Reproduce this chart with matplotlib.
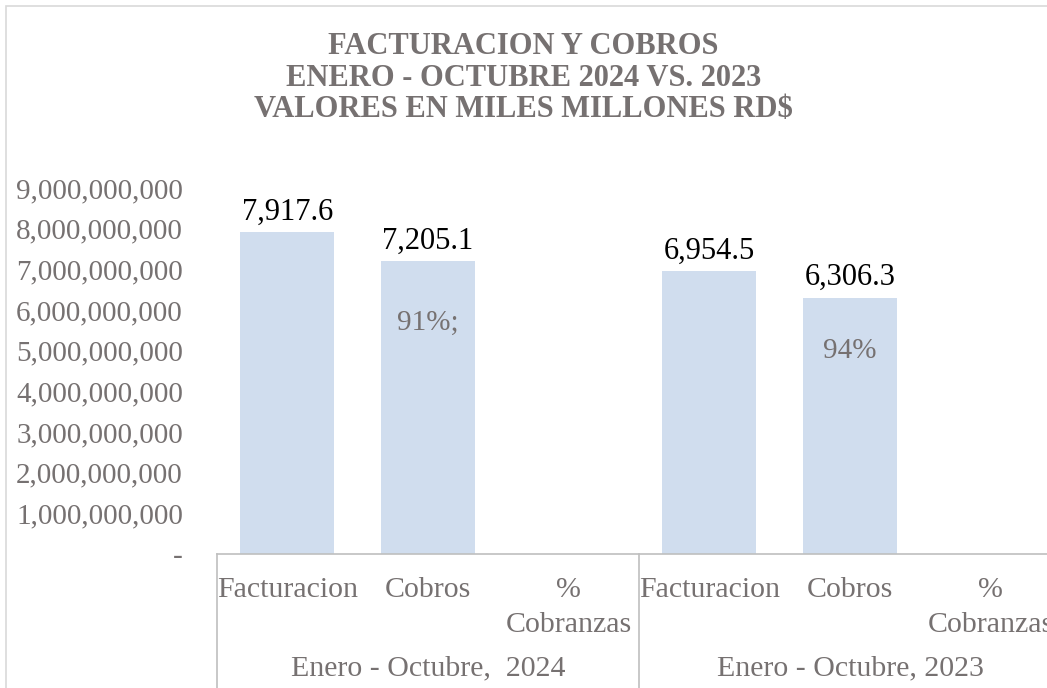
import numpy as np
import matplotlib.pyplot as plt
from matplotlib.transforms import blended_transform_factory
from matplotlib.lines import Line2D
from matplotlib.patches import Rectangle

plt.rcParams['font.family'] = ['Liberation Serif', 'DejaVu Serif']

# datos (millones RD$)
groups = ['Enero - Octubre,  2024', 'Enero - Octubre, 2023']
categories = ['Facturacion', 'Cobros', '%\nCobranzas']
facturacion = [7917.6, 6954.5]
cobros = [7205.1, 6306.3]
pct_cobranza = [0.91, 0.94]
pct_labels = ['91%;', '94%']
yticks = np.arange(0, 9e9 + 1, 1e9)

gray = '#767171'
line_gray = '#BFBFBF'
bar_color = '#D0DDEE'

W, H = 1047, 688
fig = plt.figure(figsize=(W / 100, H / 100), dpi=100)

# borde del grafico
fig.patches.append(Rectangle((6 / W, -0.1), 1.2, 1 - 6 / H + 0.1, transform=fig.transFigure,
                             fill=False, edgecolor='#D9D9D9', linewidth=1.2))

ax = fig.add_axes([217 / W, 1 - 554 / H, 844 / W, (554 - 188) / H])

x_fact = [0, 3]
x_cob = [1, 4]
x_pct = [2, 5]
ax.bar(x_fact, [v * 1e6 for v in facturacion], width=0.668, color=bar_color)
ax.bar(x_cob, [v * 1e6 for v in cobros], width=0.668, color=bar_color)
ax.bar(x_pct, pct_cobranza, width=0.668, color=bar_color)

for x, v in zip(x_fact + x_cob, facturacion + cobros):
    ax.annotate(f'{v:,.1f}', (x, v * 1e6), xytext=(0, 4), textcoords='offset points',
                ha='center', va='bottom', fontsize=22, color='black')

for x, c, lab in zip(x_cob, cobros, pct_labels):
    ax.text(x, c * 1e6 * 0.79, lab, ha='center', va='center', fontsize=21, color=gray)

ax.set_xlim(-0.5, 5.5)
ax.set_ylim(0, 9e9)
ax.set_yticks(yticks)
ax.set_yticklabels(['-' if t == 0 else f'{t:,.0f}' for t in yticks])
ax.tick_params(axis='y', length=0, pad=24.5, labelsize=21, labelcolor=gray)
ax.set_xticks([])

for s in ['top', 'right', 'left']:
    ax.spines[s].set_visible(False)
ax.spines['bottom'].set_color(line_gray)
ax.spines['bottom'].set_linewidth(1.2)

# etiquetas de categorias (dos niveles)
tr = blended_transform_factory(ax.transData, fig.transFigure)
for g, gname in enumerate(groups):
    for i, cat in enumerate(categories):
        fig.text(g * 3 + i, 1 - 577 / H, cat, transform=tr, ha='center', va='top',
                 fontsize=21.5, color=gray, linespacing=1.45)
    fig.text(g * 3 + 1, 1 - 668 / H, gname, transform=tr, ha='center', va='center',
             fontsize=21.5, color=gray)
for xs in [-0.5, 2.5, 5.5]:
    fig.lines.append(Line2D([xs, xs], [1 - 554 / H, -0.1], transform=tr,
                            color=line_gray, linewidth=1.2))

fig.text(0.5, 1 - 78 / H,
         'FACTURACION Y COBROS\nENERO - OCTUBRE 2024 VS. 2023\nVALORES EN MILES MILLONES RD$',
         ha='center', va='center', fontsize=22, fontweight='bold', color=gray, linespacing=1.13)

fig.savefig('out.png', dpi=100)
